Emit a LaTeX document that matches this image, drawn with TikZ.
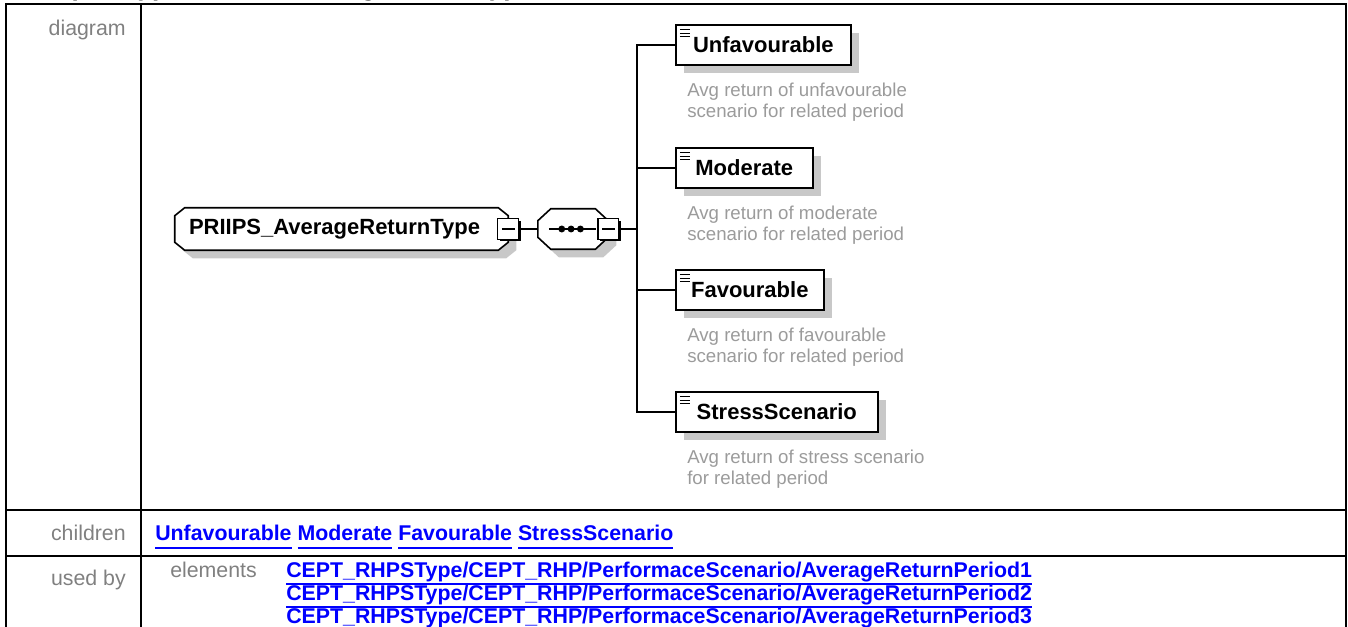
\documentclass[tikz,border=0pt]{standalone}
\usepackage{fontspec}
\setmainfont{Liberation Sans}
\usetikzlibrary{shadows, positioning, backgrounds}

\definecolor{shadowgray}{RGB}{200,200,200}
\definecolor{labelgray}{RGB}{128,128,128}
\definecolor{notegray}{RGB}{155,155,155}
\definecolor{linkblue}{RGB}{0,0,255}

\newcommand{\weblink}[1]{\setbox0\hbox{#1}\rlap{\copy0}\rule[-6pt]{\wd0}{1.5pt}}

\begin{document}
\begin{tikzpicture}[x=0.75pt, y=-0.75pt,
        rowlabel/.style={inner sep=0pt, text=labelgray, font=\fontsize{16}{19}\selectfont},
        linktext/.style={inner sep=0pt, text=linkblue, font=\fontsize{16}{19}\selectfont\bfseries},
        boxshadow/.style={drop shadow={shadow xshift=6pt, shadow yshift=-6pt, fill=shadowgray, opacity=1}},
        octo/.style={draw, line width=1.2pt, fill=white, boxshadow},
        typebox/.style={rectangle, inner sep=0pt, font=\fontsize{16.5}{20}\selectfont\bfseries},
        toggle/.style={rectangle, draw, line width=0.8pt, fill=white, minimum size=15.5pt, inner sep=0pt,
            drop shadow={shadow xshift=1.5pt, shadow yshift=-1.5pt, fill=black, opacity=1},
            path picture={\draw[line width=0.8pt] ([xshift=3pt]path picture bounding box.west) -- ([xshift=-3pt]path picture bounding box.east);}},
        elembox/.style={rectangle, draw, line width=1.2pt, fill=white, minimum height=30pt, inner sep=0pt, anchor=west, boxshadow, font=\fontsize{16.5}{20}\selectfont\bfseries,
            path picture={\foreach \k in {0,1,2} \draw[line width=1pt] ([xshift=3pt, yshift=-3.6pt-2.6pt*\k]path picture bounding box.north west) -- ++(7.5pt,0);}},
        note/.style={inner sep=0pt, align=left, text=notegray, font=\fontsize{14}{15.75}\selectfont},
        wire/.style={line width=1.2pt}
    ]
    \useasboundingbox (0,0) rectangle (1348,627);
    \clip (0,0) rectangle (1348,627);

    % Heading, cut off at the top edge
    \node[anchor=base west, inner sep=0pt, font=\fontsize{19.5}{23}\selectfont\bfseries] (title) at (18,-4.5) {complexType PRIIPS\_AverageReturnType};

    % Table grid
    \draw[line width=1.5pt] (6,640) -- (6,4) -- (1346,4) -- (1346,640);
    \draw[line width=1.5pt] (141,4) -- (141,640);
    \draw[line width=1.5pt] (6,510) -- (1346,510);
    \draw[line width=1.5pt] (6,556) -- (1346,556);

    % Row labels
    \node[rowlabel, anchor=base east] (diaglabel) at (126,35.5) {diagram};
    \node[rowlabel, anchor=base east] (kidslabel) at (126,540.7) {children};
    \node[rowlabel, anchor=base east] (usedlabel) at (126,585) {used by};
    \node[rowlabel, anchor=base west] (elemlabel) at (170,577) {elements};

    % Links
    \node[linktext, anchor=base west] (kids) at (155,540.7) {\weblink{Unfavourable} \weblink{Moderate} \weblink{Favourable} \weblink{StressScenario}};
    \node[linktext, anchor=base west] (useda) at (286,577) {\weblink{CEPT\_RHPSType/CEPT\_RHP/PerformaceScenario/AverageReturnPeriod1}};
    \node[linktext, anchor=base west] (usedb) at (286,600) {\weblink{CEPT\_RHPSType/CEPT\_RHP/PerformaceScenario/AverageReturnPeriod2}};
    \node[linktext, anchor=base west] (usedc) at (286,623) {\weblink{CEPT\_RHPSType/CEPT\_RHP/PerformaceScenario/AverageReturnPeriod3}};

    % Type and sequence
    \node[typebox, minimum width=249.75pt, minimum height=31.5pt] (root) at (341.5,229) {PRIIPS\_AverageReturnType\kern10.5pt};
    \node[toggle] (rootsq) at (root.east) {};
    \node[typebox, minimum width=52.5pt, minimum height=30pt, right=14pt of rootsq] (seq) {};
    \node[toggle] (seqsq) at (seq.east) {};
    \coordinate[right=13.5pt of seqsq] (bus);
    \begin{scope}[on background layer]
        \draw[octo] ([xshift=7.5pt]root.north west) -- ([xshift=-7.5pt]root.north east) -- ([yshift=-6pt]root.north east)
            -- ([yshift=6pt]root.south east) -- ([xshift=-7.5pt]root.south east) -- ([xshift=7.5pt]root.south west)
            -- ([yshift=6pt]root.south west) -- ([yshift=-6pt]root.north west) -- cycle;
        \draw[octo] ([xshift=9.75pt]seq.north west) -- ([xshift=-9.75pt]seq.north east) -- ([yshift=-9pt]seq.north east)
            -- ([yshift=9pt]seq.south east) -- ([xshift=-9.75pt]seq.south east) -- ([xshift=9.75pt]seq.south west)
            -- ([yshift=9pt]seq.south west) -- ([yshift=-9pt]seq.north west) -- cycle;
    \end{scope}
    \draw[line width=1.2pt] ([xshift=8.25pt]seq.west) -- ([xshift=-9pt]seq.east);
    \foreach \dx in {-8.5pt,-1.5pt,5.5pt}
        \fill ([xshift=\dx]seq.center) circle (2.6pt);

    % Child elements
    \node[elembox, minimum width=131.25pt] (unfav) at (675,45) {Unfavourable};
    \node[elembox, minimum width=102.75pt] (moder) at (675,168) {Moderate};
    \node[elembox, minimum width=111pt] (favour) at (675,290) {Favourable};
    \node[elembox, minimum width=151.5pt] (stress) at (675,412) {StressScenario};

    \node[note, below right=13pt and 9pt of unfav.south west] (unfavnote) {Avg return of unfavourable\\scenario for related period};
    \node[note, below right=13pt and 9pt of moder.south west] (modernote) {Avg return of moderate\\scenario for related period};
    \node[note, below right=13pt and 9pt of favour.south west] (favournote) {Avg return of favourable\\scenario for related period};
    \node[note, below right=13pt and 9pt of stress.south west] (stressnote) {Avg return of stress scenario\\for related period};

    % Connectors
    \draw[wire] (rootsq) -- (seq);
    \draw[wire] (seqsq) -- (bus);
    \foreach \kid in {unfav,moder,favour,stress}
        \draw[wire] (bus) |- (\kid.west);

\end{tikzpicture}
\end{document}
